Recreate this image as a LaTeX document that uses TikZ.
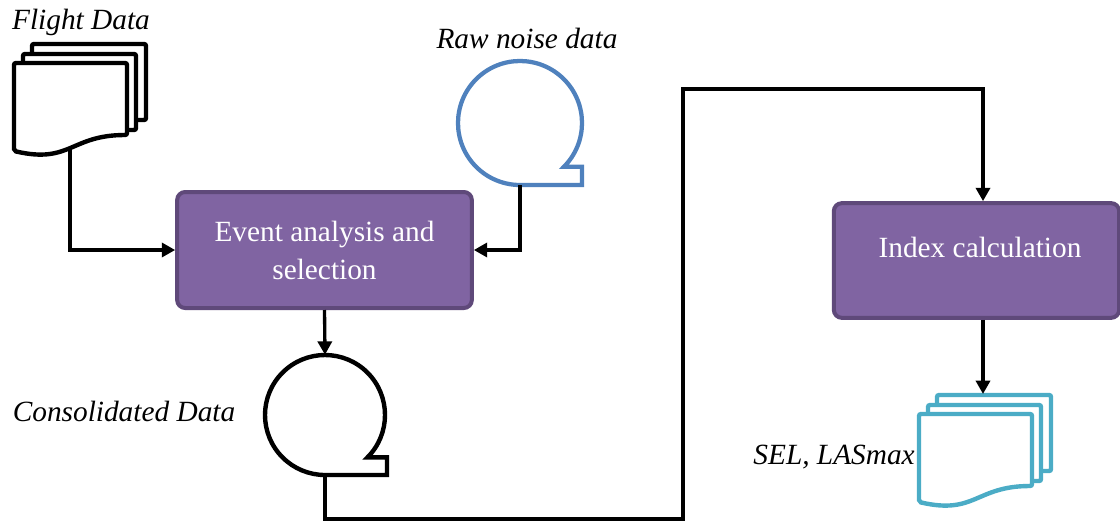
\documentclass[tikz,border=0pt]{standalone}
\usepackage{fontspec}
\setmainfont{Liberation Serif}
\usetikzlibrary{arrows.meta}
\definecolor{procfill}{HTML}{8064A2}
\definecolor{procdraw}{HTML}{5F497A}
\definecolor{rawblue}{HTML}{4F81BD}
\definecolor{outcyan}{HTML}{4BACC6}
\newcommand\mydocstack[3]{%
  \draw[line width=3.3pt,draw=#3,fill=white,rounded corners=1.5pt] (#1+18,-#2+19) rectangle ++(114,-76);
  \draw[line width=3.3pt,draw=#3,fill=white,rounded corners=1.5pt] (#1+9,-#2+9) rectangle ++(113,-76);
  \draw[line width=3.3pt,draw=#3,fill=white,rounded corners=1.5pt] (#1,-#2) -- (#1+113,-#2) -- (#1+113,-#2-72)
     .. controls (#1+56.5,-#2-72) and (#1+56.5,-#2-101) .. (#1,-#2-88) -- cycle;
}
\tikzset{
  procbox/.style={rectangle, rounded corners=6pt, fill=procfill, draw=procdraw, line width=3pt,
     text=white, font=\fontsize{22}{28.5}\selectfont, align=center, inner sep=0pt},
  lbl/.style={font=\fontsize{22}{26}\selectfont\itshape, inner sep=0pt},
  conn/.style={line width=2.5pt, -{Triangle[length=10pt,width=10.5pt]}},
  ghost/.style={inner sep=0pt, draw=none}
}
\begin{document}
\begin{tikzpicture}[x=0.75pt,y=0.75pt]
\useasboundingbox (0,0) rectangle (1120,-521);

% Flight data documents
\mydocstack{14}{63}{black}
\node[ghost, minimum width=85pt, minimum height=67pt] (flight) at (70,-107) {};
\coordinate (flightout) at (70,-149);
\node[lbl] (flightlbl) at (81,-22) {Flight Data};

% Raw noise data
\draw[line width=3.2pt, draw=rawblue, fill=white] ([shift={(-45:62)}]520,-123) arc[start angle=-45, end angle=270, radius=62]
  -- (582,-185) -- (582,{-123-62*0.7071}) -- cycle;
\node[ghost, circle, minimum size=93pt] (raw) at (520,-123) {};
\node[lbl] (rawlbl) at (527,-38) {Raw noise data};

% Event analysis box
\node[procbox, minimum width=221pt, minimum height=87pt] (event) at (324.5,-250)
  {Event analysis and\\selection};

% Consolidated data
\draw[line width=3.3pt, draw=black, fill=white] ([shift={(-45:60)}]325,-415) arc[start angle=-45, end angle=270, radius=60]
  -- (387,-475) -- (387,{-415-60*0.7071}) -- cycle;
\node[ghost, circle, minimum size=90pt] (cons) at (325,-415) {};
\node[lbl] (conslbl) at (124,-411) {Consolidated Data};

% Index calculation box
\node[procbox, minimum width=214pt, minimum height=86pt] (index) at (976.5,-260.5) {};
\node[text=white, font=\fontsize{22}{28.5}\selectfont, inner sep=0pt] (indexlbl) at (980,-247) {Index calculation};

% SEL documents
\mydocstack{919}{414}{outcyan}
\node[ghost, minimum width=85pt, minimum height=67pt] (sel) at (985,-450) {};
\coordinate (selin) at (983,-394);
\node[lbl, anchor=east] (sellbl) at (915,-457) {SEL, LASmax};

% connectors
\coordinate (c1) at (683,-519);
\coordinate (c2) at (983,-89);
\draw[conn] (flightout) |- (event.west);
\draw[conn] (raw.south) |- (event.east);
\draw[conn] (event.south) -- (cons.north);
\draw[conn] (cons.south) |- (c1) |- (c2) -- (index.north -| c2);
\draw[conn] (index.south -| c2) -- (selin);
\end{tikzpicture}
\end{document}
